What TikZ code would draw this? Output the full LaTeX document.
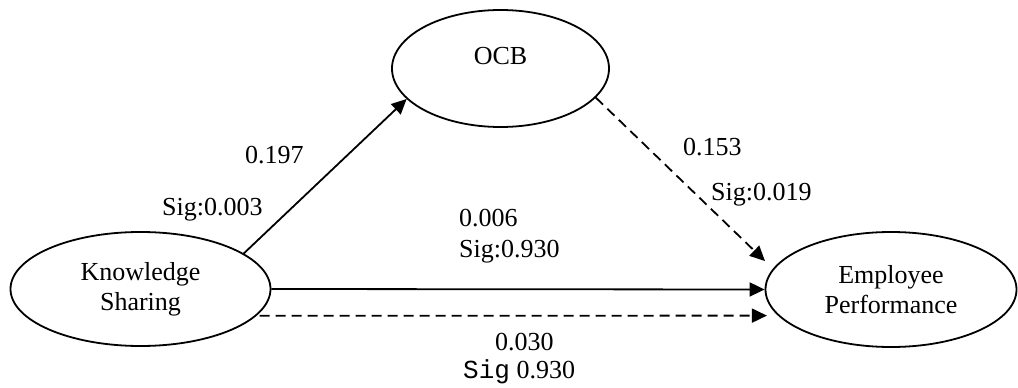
\documentclass[tikz,border=0pt]{standalone}
\usepackage{fontspec}
\setmainfont{Liberation Serif}
\setmonofont{Liberation Mono}
\usetikzlibrary{shapes.geometric,arrows.meta}
\begin{document}
\begin{tikzpicture}[x=1pt,y=-1pt,
  every node/.style={font=\fontsize{26}{30}\selectfont},
  construct/.style={ellipse,draw,line width=1.8pt,inner sep=0pt,align=center},
  path/.style={line width=1.8pt,-{Triangle[length=15pt,width=14pt]}},
  dashpath/.style={path,dash pattern=on 10pt off 6pt},
  lbl/.style={anchor=base west,inner sep=0pt}]
\useasboundingbox (0,0) rectangle (1018,388);
\node[construct,minimum width=260pt,minimum height=114pt] (ks) at (140.5,289) {Knowledge\\Sharing};
\node[construct,minimum width=217pt,minimum height=117pt,text height=18pt,text depth=27pt] (ocb) at (500.5,68.5) {OCB};
\node[construct,minimum width=251pt,minimum height=115pt] (ep) at (891,289.5) {Employee\\Performance};
\draw[path] (ks.19) -- (ocb.198);
\draw[dashpath,shorten >=11pt] (ocb.343) -- (ep.170);
\draw[path] (ks.east) -- (ep.west);
\draw[dashpath,shorten <=3pt,shorten >=11pt] (ks.347) -- (ep.193);
\node[lbl] (l1) at (245,163) {0.197};
\node[lbl] (l2) at (162,215) {Sig:0.003};
\node[lbl] (l3) at (683,155) {0.153};
\node[lbl] (l4) at (711,200) {Sig:0.019};
\node[lbl] (l5) at (459,226) {0.006};
\node[lbl] (l6) at (459,257) {Sig:0.930};
\node[lbl] (l7) at (495,350) {0.030};
\node[lbl] (l8) at (463,378) {\texttt{Sig} 0.930};
\end{tikzpicture}
\end{document}
